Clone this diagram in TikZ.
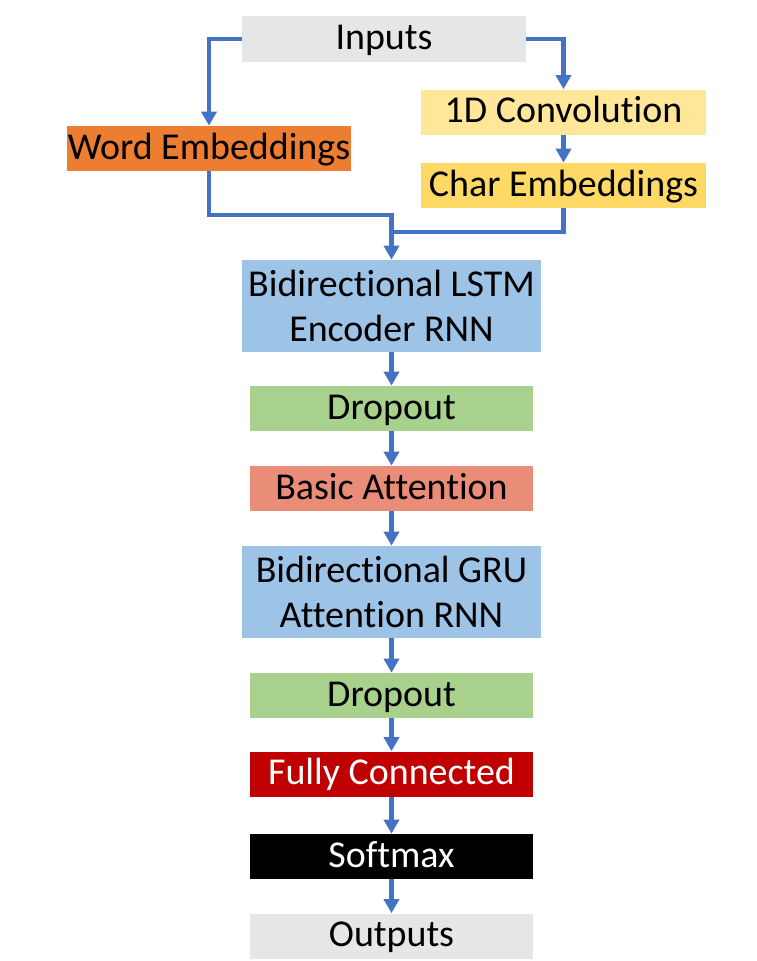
\documentclass[tikz,border=0pt]{standalone}
\usepackage{fontspec}
\setmainfont{Carlito}[Ligatures=NoCommon]
\usetikzlibrary{arrows.meta}

\definecolor{lineblue}{HTML}{4472C4}
\definecolor{boxgray}{HTML}{E7E6E6}
\definecolor{wordorange}{HTML}{ED7D31}
\definecolor{convyellow}{HTML}{FFE699}
\definecolor{charyellow}{HTML}{FFD966}
\definecolor{rnnblue}{HTML}{9DC3E6}
\definecolor{dropgreen}{HTML}{A9D18E}
\definecolor{attnsalmon}{HTML}{E98D78}
\definecolor{fcred}{HTML}{C00000}

\begin{document}
\begin{tikzpicture}[
		box/.style={inner sep=0pt, minimum width=5.66cm, minimum height=0.9cm, align=center,
			font=\fontsize{21.6pt}{26pt}\selectfont},
		layer/.style={box, text height=15pt, text depth=3pt},
		wide/.style={box, minimum width=5.98cm, minimum height=1.84cm},
		line/.style={draw=lineblue, line width=2.3pt},
		flow/.style={line, -{Triangle[width=8.6pt,length=8pt]}}
	]
				\useasboundingbox (0,0) rectangle (15.12,-19.22);
				
				\node[layer, fill=boxgray, minimum width=5.68cm, minimum height=0.92cm] (in) at (7.68,-0.78) {Inputs};
				
				\node[layer, fill=wordorange, minimum width=5.68cm] (word) at (4.18,-2.97) {Word Embeddings};
				\node[layer, fill=convyellow, minimum width=5.70cm] (conv) at (11.27,-2.24) {1D Convolution};
				\node[layer, fill=charyellow, minimum width=5.70cm] (char) at (11.27,-3.71) {Char Embeddings};
				
				\node[wide, fill=rnnblue] (lstm) at (7.83,-6.12) {Bidirectional LSTM\\Encoder RNN};
				\node[layer, fill=dropgreen] (drop1) at (7.83,-8.17) {Dropout};
				\node[layer, fill=attnsalmon] (attn) at (7.83,-9.77) {Basic Attention};
				\node[wide, fill=rnnblue] (gru) at (7.83,-11.84) {Bidirectional GRU\\Attention RNN};
				\node[layer, fill=dropgreen] (drop2) at (7.83,-13.91) {Dropout};
				\node[layer, fill=fcred, text=white] (fc) at (7.83,-15.48) {Fully Connected};
				\node[layer, fill=black, text=white] (soft) at (7.83,-17.13) {Softmax};
				\node[layer, fill=boxgray] (out) at (7.83,-18.72) {Outputs};
				
				\coordinate (merge) at ([yshift=0.9cm]lstm.north);
				\coordinate (join) at ([yshift=0.56cm]lstm.north);
				
				\draw[flow] (in.west) -| (word.north);
				\draw[flow] (in.east) -| (conv.north);
				\draw[flow] (conv) -- (char);
				\draw[flow] (word.south) |- (merge) -- (lstm.north);
				\draw[line] (char.south) |- (join);
				\draw[flow] (lstm) -- (drop1);
				\draw[flow] (drop1) -- (attn);
				\draw[flow] (attn) -- (gru);
				\draw[flow] (gru) -- (drop2);
				\draw[flow] (drop2) -- (fc);
				\draw[flow] (fc) -- (soft);
				\draw[flow] (soft) -- (out);
			\end{tikzpicture}
\end{document}
